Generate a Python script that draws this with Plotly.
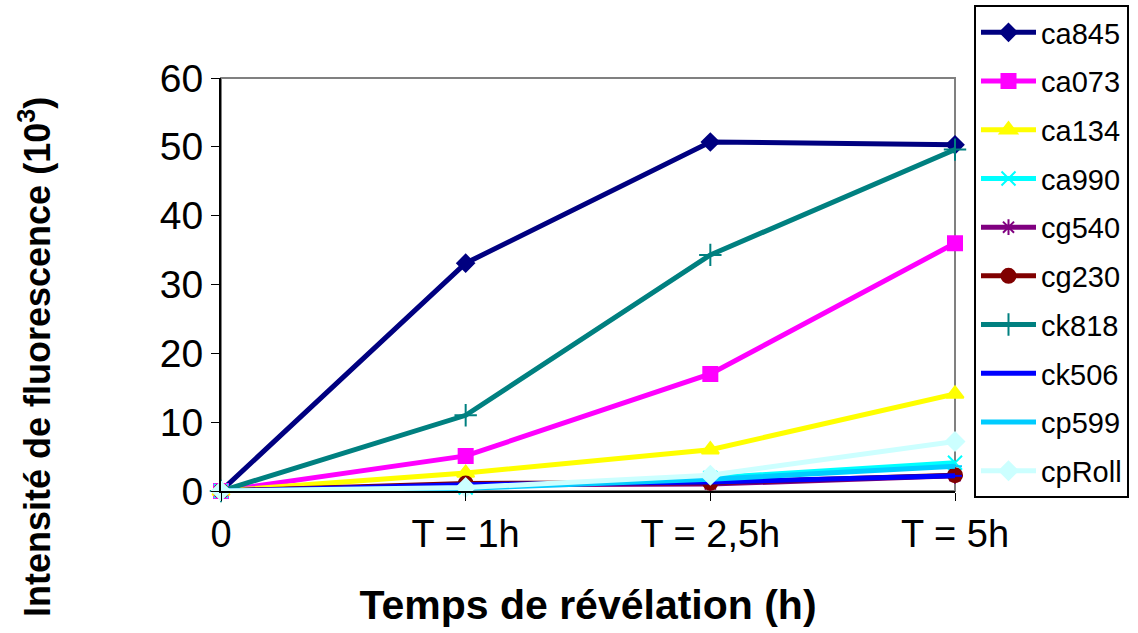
import plotly.graph_objects as go

categories = ["0", "T = 1h", "T = 2,5h", "T = 5h"]
x_pos = [0, 1, 2, 3]

series_names = ["ca845", "ca073", "ca134", "ca990", "cg540", "cg230", "ck818", "ck506", "cp599", "cpRoll"]
ca845 = [0, 33.1, 50.7, 50.3]
ca073 = [0, 5.1, 17.0, 36.0]
ca134 = [0, 2.6, 6.0, 14.1]
ca990 = [0, 0.5, 1.9, 4.1]
cg540 = [0, 0.9, 1.0, 2.2]
cg230 = [0, 1.1, 1.2, 2.3]
ck818 = [0, 11.0, 34.3, 49.6]
ck506 = [0, 0.9, 1.3, 2.2]
cp599 = [0, 0.4, 1.7, 3.6]
cpRoll = [0, 0.5, 2.3, 7.2]
values = [ca845, ca073, ca134, ca990, cg540, cg230, ck818, ck506, cp599, cpRoll]

colors = ["#000080", "#FF00FF", "#FFFF00", "#00FFFF", "#800080", "#800000",
          "#008080", "#0000FF", "#00CCFF", "#CCFFFF"]
symbols = ["diamond", "square", "triangle-up", "x-thin-open", "asterisk-open", "circle",
           "cross-thin-open", "line-ew-open", "line-ew-open", "diamond"]
sizes = [13, 14, 15, 14, 13, 14, 16, 10, 10, 14]

fig = go.Figure()
for name, vals, col, sym, sz in zip(series_names, values, colors, symbols, sizes):
    fig.add_trace(go.Scatter(
        x=x_pos, y=vals, name=name, mode="lines+markers",
        line=dict(color=col, width=5),
        marker=dict(symbol=sym, size=sz, color=col, line=dict(color=col, width=2)),
        cliponaxis=False, legendgroup=name,
    ))

fig.add_shape(type="rect", xref="paper", yref="paper", x0=0, x1=1, y0=0, y1=1,
              line=dict(color="#808080", width=2), layer="below")

fig.add_annotation(
    text="<b>Intensité de fluorescence (10<sup>3</sup>)</b>",
    xref="paper", yref="paper", x=(35 - 221) / 734, y=(491 - 357) / 413,
    xanchor="center", yanchor="middle", textangle=-90, showarrow=False,
    font=dict(size=36, family="Liberation Sans, Arial, sans-serif", color="black"),
)

fig.update_layout(
    width=1138, height=633,
    margin=dict(l=221, r=183, t=78, b=142, autoexpand=False),
    paper_bgcolor="white", plot_bgcolor="white",
    font=dict(family="Liberation Sans, Arial, sans-serif", color="black"),
    legend=dict(
        x=(974 - 221) / 734, y=(491 - 5) / 413, xanchor="left", yanchor="top",
        font=dict(size=29, family="Liberation Sans, Arial, sans-serif"),
        bordercolor="black", borderwidth=2, bgcolor="white",
        tracegroupgap=8, traceorder="grouped", itemwidth=55,
        maxheight=620,
    ),
    xaxis=dict(
        range=[0, 3], tickmode="array", tickvals=x_pos, ticktext=categories,
        showgrid=False, zeroline=False, showline=True, linecolor="black", linewidth=2,
        ticks="outside", ticklen=8, tickcolor="black", tickwidth=1,
        tickfont=dict(size=38),
        title=dict(text="<b>Temps de révélation (h)</b>", font=dict(size=41), standoff=37),
    ),
    yaxis=dict(
        range=[0, 60], tickmode="array", tickvals=[0, 10, 20, 30, 40, 50, 60],
        showgrid=False, zeroline=False, showline=True, linecolor="black", linewidth=2,
        ticks="outside", ticklen=8, tickcolor="black", tickwidth=1,
        tickfont=dict(size=39),
    ),
)

fig.write_html("out.html")
